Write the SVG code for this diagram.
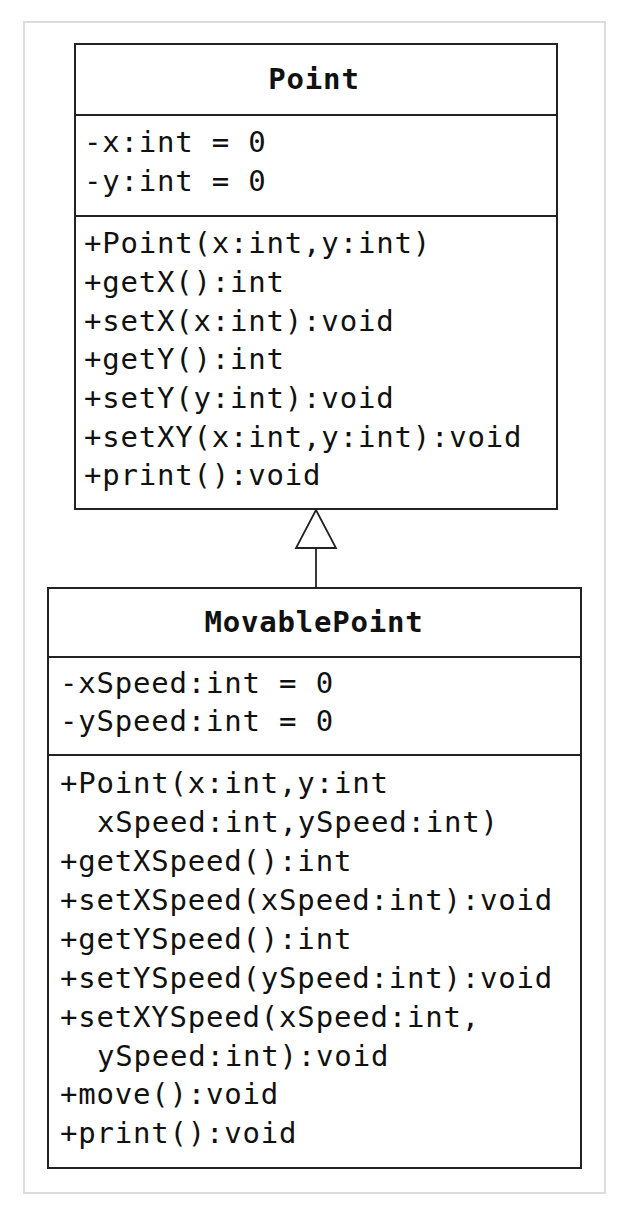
<svg xmlns="http://www.w3.org/2000/svg" width="628" height="1220" viewBox="0 0 628 1220">
<style>
.box{fill:#fff;stroke:#222;stroke-width:2}
.sep{stroke:#222;stroke-width:2}
.t{font-family:"DejaVu Sans Mono","Liberation Mono",monospace;font-size:29px;letter-spacing:0.8px;fill:#111}
.h{font-family:"DejaVu Sans Mono","Liberation Mono",monospace;font-size:29px;letter-spacing:0.8px;font-weight:bold;fill:#111;text-anchor:middle}
.conn{stroke:#222;stroke-width:1.8;fill:none}
</style>
<rect x="24" y="22" width="581" height="1171" fill="#fff" stroke="#ddd" stroke-width="2"/>
<g id="point">
<rect class="box" x="75" y="44" width="482" height="465"/>
<line class="sep" x1="75" y1="115" x2="557" y2="115"/>
<line class="sep" x1="75" y1="216" x2="557" y2="216"/>
<text class="h" x="314" y="89">Point</text>
<text class="t" x="84" y="152">-x:int = 0</text>
<text class="t" x="84" y="191">-y:int = 0</text>
<text class="t" x="84" y="253">+Point(x:int,y:int)</text>
<text class="t" x="84" y="292">+getX():int</text>
<text class="t" x="84" y="331">+setX(x:int):void</text>
<text class="t" x="84" y="369">+getY():int</text>
<text class="t" x="84" y="408">+setY(y:int):void</text>
<text class="t" x="84" y="447">+setXY(x:int,y:int):void</text>
<text class="t" x="84" y="485">+print():void</text>
</g>
<g id="movablepoint">
<rect class="box" x="48" y="588" width="533" height="580"/>
<line class="sep" x1="48" y1="657" x2="581" y2="657"/>
<line class="sep" x1="48" y1="755" x2="581" y2="755"/>
<text class="h" x="314" y="632">MovablePoint</text>
<text class="t" x="60" y="693">-xSpeed:int = 0</text>
<text class="t" x="60" y="731">-ySpeed:int = 0</text>
<text class="t" x="60" y="793">+Point(x:int,y:int</text>
<text class="t" x="97" y="832">xSpeed:int,ySpeed:int)</text>
<text class="t" x="60" y="871">+getXSpeed():int</text>
<text class="t" x="60" y="910">+setXSpeed(xSpeed:int):void</text>
<text class="t" x="60" y="949">+getYSpeed():int</text>
<text class="t" x="60" y="988">+setYSpeed(ySpeed:int):void</text>
<text class="t" x="60" y="1027">+setXYSpeed(xSpeed:int,</text>
<text class="t" x="97" y="1066">ySpeed:int):void</text>
<text class="t" x="60" y="1104">+move():void</text>
<text class="t" x="60" y="1143">+print():void</text>
</g>
<g id="connectors">
<line class="conn" x1="316" y1="588" x2="316" y2="548"/>
<polygon class="conn" points="316,510 296,548 336,548" style="fill:#fff"/>
</g>
</svg>
